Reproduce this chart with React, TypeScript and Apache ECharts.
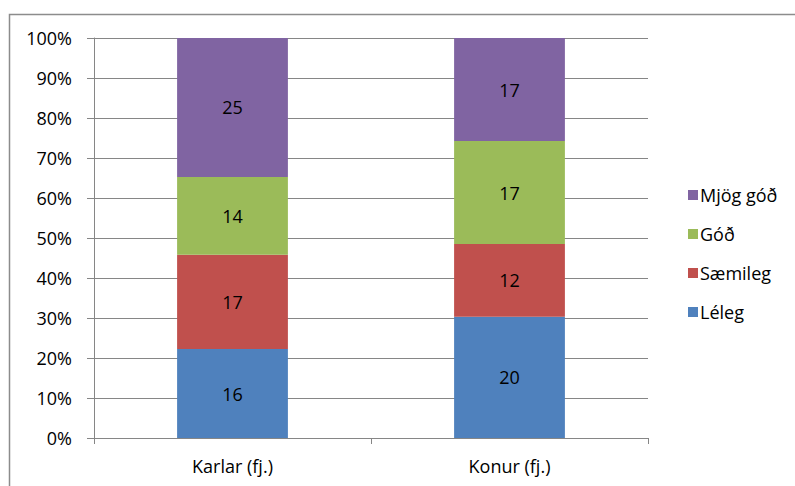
import React, { useEffect, useRef } from "react";
import * as echarts from "echarts";

const categories = ["Karlar (fj.)", "Konur (fj.)"];
const seriesNames = ["Léleg", "Sæmileg", "Góð", "Mjög góð"];
const lelegCounts = [16, 20];
const saemilegCounts = [17, 12];
const godCounts = [14, 17];
const mjogGodCounts = [25, 17];
const colors = ["#4F81BD", "#C0504D", "#9BBB59", "#8064A2"];
const yTicks = [0, 10, 20, 30, 40, 50, 60, 70, 80, 90, 100];

const FONT = "'Open Sans', sans-serif";
const FS = 18;

export default function App() {
  const ref = useRef<HTMLDivElement>(null);
  useEffect(() => {
    if (!ref.current) return;
    const chart = echarts.init(ref.current, undefined, { renderer: "svg" });
    const all = [lelegCounts, saemilegCounts, godCounts, mjogGodCounts];
    const totals = categories.map((_, i) => all.reduce((s, arr) => s + arr[i], 0));
    const series = all.map((arr, si) => ({
      name: seriesNames[si],
      type: "bar",
      stack: "total",
      barWidth: "40%",
      itemStyle: { color: colors[si] },
      label: {
        show: true,
        position: "inside",
        color: "#000",
        fontSize: FS,
        fontFamily: FONT,
        formatter: (p: any) => String(p.data.count),
      },
      data: arr.map((c, i) => ({ value: (c / totals[i]) * 100, count: c })),
    }));
    chart.setOption({
      animation: false,
      textStyle: { fontFamily: FONT },
      grid: { left: 94, right: 147, top: 38, bottom: 48, containLabel: false },
      legend: {
        data: [...seriesNames].reverse(),
        orient: "vertical",
        left: 683,
        top: 180,
        itemWidth: 10,
        itemHeight: 10,
        itemGap: 19,
        icon: "rect",
        textStyle: { fontSize: FS, lineHeight: 20, color: "#000", fontFamily: FONT, padding: [0, 0, 0, -3] },
      },
      xAxis: {
        type: "category",
        data: categories,
        axisLine: { lineStyle: { color: "#868686", width: 1 } },
        axisTick: { show: true, length: 6, alignWithLabel: false, lineStyle: { color: "#868686" } },
        axisLabel: { color: "#000", fontSize: FS, margin: 19, fontFamily: FONT },
      },
      yAxis: {
        type: "value",
        min: 0,
        max: 100,
        interval: 10,
        axisLine: { show: true, lineStyle: { color: "#868686", width: 1 } },
        axisTick: { show: true, length: 7, lineStyle: { color: "#868686" } },
        splitLine: { show: true, lineStyle: { color: "#868686", width: 1 } },
        axisLabel: {
          color: "#000",
          fontSize: FS,
          margin: 22,
          fontFamily: FONT,
          formatter: (v: number) => (yTicks.includes(v) ? v + "%" : ""),
        },
      },
      graphic: [
        {
          type: "rect",
          shape: { x: 9.5, y: 14.5, width: 800, height: 500 },
          style: { fill: "none", stroke: "#8c8c8c", lineWidth: 1.5 },
          silent: true,
        },
      ],
      series,
    });
    return () => chart.dispose();
  }, []);
  return <div ref={ref} style={{ width: 795, height: 486, position: "absolute", left: 0, top: 0 }} />;
}
